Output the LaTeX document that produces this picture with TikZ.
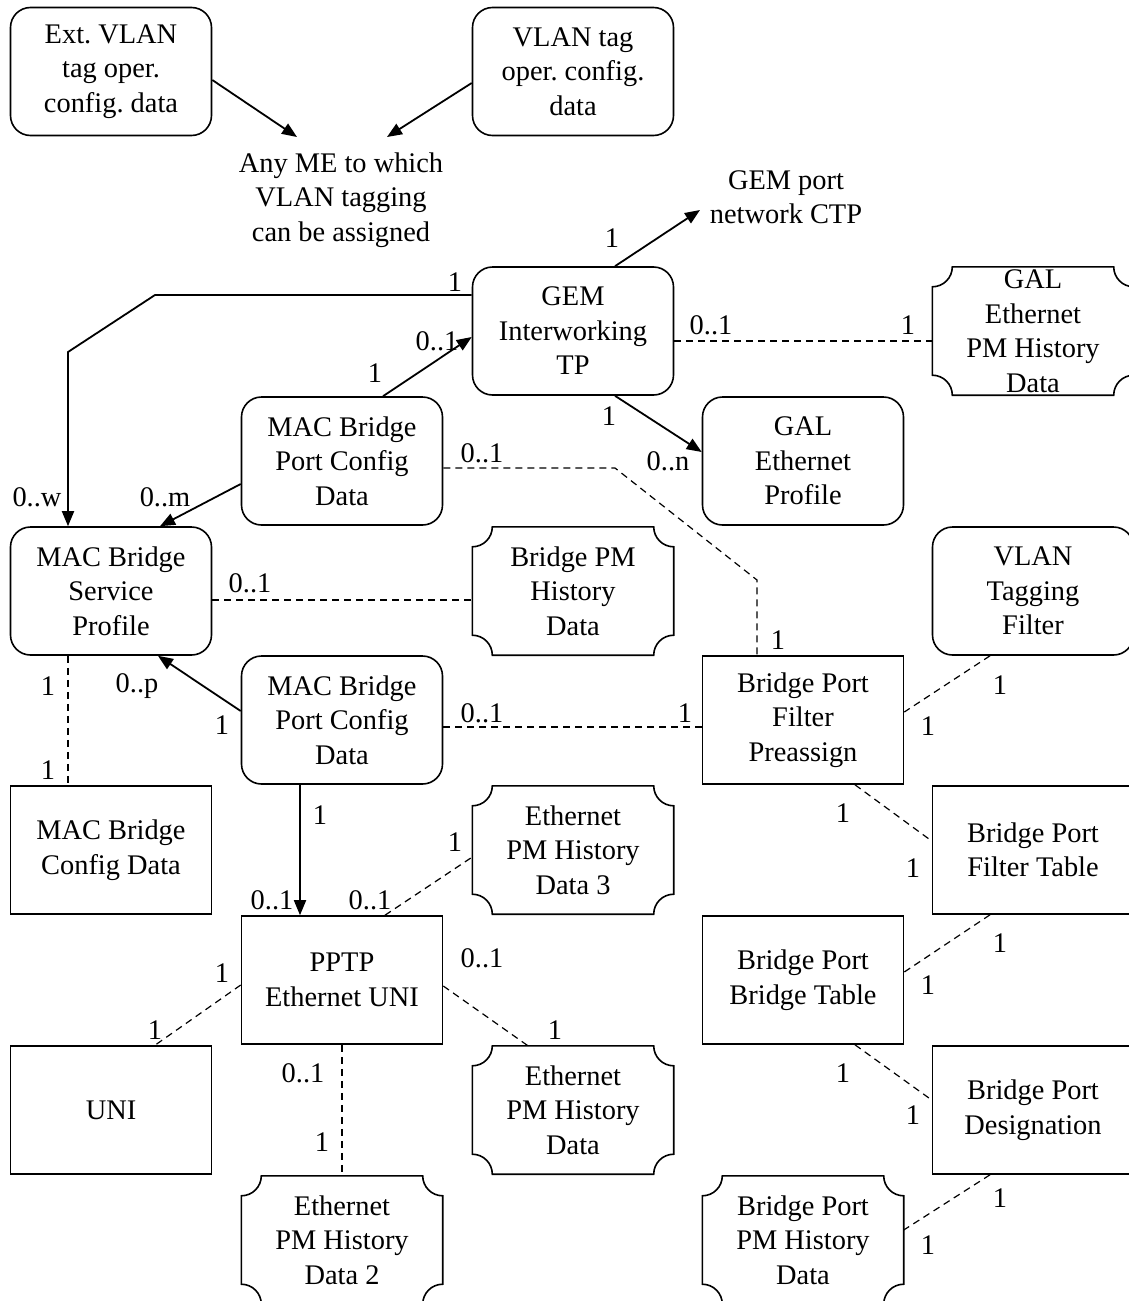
\documentclass[tikz,border=0pt]{standalone}
\usepackage{fontspec}
\setmainfont{Liberation Serif}
\usetikzlibrary{arrows.meta,calc}
\frenchspacing
\newcommand{\scalbox}[1]{%
  \draw[line width=1.6pt] ($(#1.north west)+(20,0)$) -- ($(#1.north east)+(-20,0)$)
    arc[start angle=180,end angle=270,radius=20pt] -- ($(#1.south east)+(0,20)$)
    arc[start angle=90,end angle=180,radius=20pt] -- ($(#1.south west)+(20,0)$)
    arc[start angle=0,end angle=90,radius=20pt] -- ($(#1.north west)+(0,-20)$)
    arc[start angle=270,end angle=360,radius=20pt] -- cycle;}
\begin{document}
\begin{tikzpicture}[x=1pt,y=1pt,
  every node/.style={font=\fontsize{28.4}{34.5}\selectfont},
  rbox/.style={draw, line width=1.6pt, rounded corners=20pt, minimum width=201pt, minimum height=128pt, inner sep=0pt, align=center},
  sbox/.style={draw, line width=1.6pt, minimum width=201pt, minimum height=128pt, inner sep=0pt, align=center},
  scal/.style={minimum width=201pt, minimum height=128pt, inner sep=0pt, align=center},
  txt/.style={align=center, inner sep=0pt},
  lbl/.style={inner sep=0pt},
  arr/.style={line width=1.8pt, -{Triangle[length=15pt,width=12pt]}},
  dsh/.style={line width=1.2pt, dash pattern=on 7pt off 5pt},
]
\fill[white] (0,0) rectangle (1128,-1301);
\useasboundingbox (0,0) rectangle (1128,-1301);

% boxes
\node[rbox] (ext) at (111,-71.5) {Ext. VLAN\\tag oper.\\config. data};
\node[rbox] (vtag) at (573,-71.5) {VLAN tag\\oper. config.\\data};
\node[txt] (anyme) at (341,-200) {Any ME to which\\VLAN tagging\\can be assigned};
\node[txt] (ctp) at (786,-197) {GEM port\\network CTP};
\node[rbox] (gem) at (573,-331) {GEM\\Interworking\\TP};
\node[scal] (galpm) at (1033,-331) {GAL\\Ethernet\\PM History\\Data};
\node[rbox] (mbpcd1) at (342,-461) {MAC Bridge\\Port Config\\Data};
\node[rbox] (galp) at (803,-461) {GAL\\Ethernet\\Profile};
\node[rbox] (mbsp) at (111,-591) {MAC Bridge\\Service\\Profile};
\node[scal] (bpm) at (573,-591) {Bridge PM\\History\\Data};
\node[rbox] (vtf) at (1033,-591) {VLAN\\Tagging\\Filter};
\node[rbox] (mbpcd2) at (342,-720) {MAC Bridge\\Port Config\\Data};
\node[sbox] (bfp) at (803,-720) {Bridge Port\\Filter\\Preassign};
\node[sbox] (mbcd) at (111,-850) {MAC Bridge\\Config Data};
\node[scal] (eth3) at (573,-850) {Ethernet\\PM History\\Data 3};
\node[sbox] (bft) at (1033,-850) {Bridge Port\\Filter Table};
\node[sbox] (pptp) at (342,-980) {PPTP\\Ethernet UNI};
\node[sbox] (bbt) at (803,-980) {Bridge Port\\Bridge Table};
\node[sbox] (uni) at (111,-1110) {UNI};
\node[scal] (eth1) at (573,-1110) {Ethernet\\PM History\\Data};
\node[sbox] (bpd) at (1033,-1110) {Bridge Port\\Designation};
\node[scal] (eth2) at (342,-1240) {Ethernet\\PM History\\Data 2};
\node[scal] (bppm) at (803,-1240) {Bridge Port\\PM History\\Data};

\scalbox{galpm}
\scalbox{bpm}
\scalbox{eth3}
\scalbox{eth1}
\scalbox{eth2}
\scalbox{bppm}

% helper coordinates
\coordinate (d1) at (155,-295);
\coordinate (d2) at (68,-352);
\coordinate (i1) at (615,-468);
\coordinate (i2) at (757,-580);

% solid arrows
\draw[arr] ($(ext.east)+(0,-8.5)$) -- ($(anyme.center)+(-44,63)$);
\draw[arr] ($(vtag.west)+(0,-11.5)$) -- ($(anyme.center)+(46,63)$);
\draw[arr] ($(gem.north)+(42,0)$) -- ($(ctp.center)+(-86,-13)$);
\draw[arr] ($(gem.west)+(0,36)$) -- (d1) -- (d2) -- ($(mbsp.north)+(-43,0)$);
\draw[arr] ($(mbpcd1.north)+(41,0)$) -- ($(gem.west)+(0,-6)$);
\draw[arr] ($(gem.south)+(42,0)$) -- ($(galp.west)+(0,9)$);
\draw[arr] ($(mbpcd1.west)+(0,-23)$) -- ($(mbsp.north)+(49,0)$);
\draw[arr] ($(mbpcd2.west)+(0,9)$) -- ($(mbsp.south)+(47,0)$);
\draw[arr] ($(mbpcd2.south)+(-42,0)$) -- ($(pptp.north)+(-42,0)$);

% dashed links
\draw[dsh] ($(gem.east)+(0,-10)$) -- ($(galpm.west)+(0,-10)$);
\draw[dsh] ($(mbpcd1.east)+(0,-7)$) -- (i1) -- (i2) -- ($(bfp.north)+(-46,0)$);
\draw[dsh] ($(mbsp.east)+(0,-9)$) -- ($(bpm.west)+(0,-9)$);
\draw[dsh] ($(mbsp.south)+(-43,0)$) -- ($(mbcd.north)+(-43,0)$);
\draw[dsh] ($(mbpcd2.east)+(0,-7)$) -- ($(bfp.west)+(0,-7)$);
\draw[dsh] ($(vtf.south)+(-43,0)$) -- ($(bfp.east)+(0,8)$);
\draw[dsh] ($(bfp.south)+(52,0)$) -- ($(bft.west)+(0,9)$);
\draw[dsh] ($(bft.south)+(-43,0)$) -- ($(bbt.east)+(0,8)$);
\draw[dsh] ($(bbt.south)+(52,0)$) -- ($(bpd.west)+(0,10)$);
\draw[dsh] ($(bpd.south)+(-43,0)$) -- ($(bppm.east)+(0,10)$);
\draw[dsh] ($(pptp.north)+(43,0)$) -- ($(eth3.west)+(0,-7)$);
\draw[dsh] ($(pptp.east)+(0,-6)$) -- ($(eth1.north)+(-45,0)$);
\draw[dsh] ($(pptp.west)+(0,-5)$) -- ($(uni.north)+(44,0)$);
\draw[dsh] (pptp.south) -- (eth2.north);

% multiplicity labels
\node[lbl] (l1) at (612,-238) {1};
\node[lbl] (l2) at (455,-282) {1};
\node[lbl] (l3) at (37,-497) {0..w};
\node[lbl] (l4) at (375,-373) {1};
\node[lbl] (l5) at (437,-341) {0..1};
\node[lbl] (l6) at (711,-325) {0..1};
\node[lbl] (l7) at (908,-325) {1};
\node[lbl] (l8) at (609,-416) {1};
\node[lbl] (l9) at (668,-461) {0..n};
\node[lbl] (l10) at (165,-497) {0..m};
\node[lbl] (l11) at (482,-453) {0..1};
\node[lbl] (l12) at (778,-640) {1};
\node[lbl] (l13) at (250,-583) {0..1};
\node[lbl] (l14) at (48,-686) {1};
\node[lbl] (l15) at (48,-770) {1};
\node[lbl] (l16) at (137,-686) {0..p};
\node[lbl] (l17) at (222,-725) {1};
\node[lbl] (l18) at (482,-713) {0..1};
\node[lbl] (l19) at (685,-713) {1};
\node[lbl] (l20) at (320,-815) {1};
\node[lbl] (l21) at (272,-900) {0..1};
\node[lbl] (l22) at (1000,-685) {1};
\node[lbl] (l23) at (928,-726) {1};
\node[lbl] (l24) at (843,-813) {1};
\node[lbl] (l25) at (913,-868) {1};
\node[lbl] (l26) at (1000,-943) {1};
\node[lbl] (l27) at (928,-985) {1};
\node[lbl] (l28) at (843,-1073) {1};
\node[lbl] (l29) at (913,-1115) {1};
\node[lbl] (l30) at (1000,-1198) {1};
\node[lbl] (l31) at (928,-1245) {1};
\node[lbl] (l32) at (370,-900) {0..1};
\node[lbl] (l33) at (455,-842) {1};
\node[lbl] (l34) at (482,-958) {0..1};
\node[lbl] (l35) at (555,-1030) {1};
\node[lbl] (l36) at (222,-973) {1};
\node[lbl] (l37) at (155,-1030) {1};
\node[lbl] (l38) at (303,-1073) {0..1};
\node[lbl] (l39) at (322,-1142) {1};
\end{tikzpicture}
\end{document}
